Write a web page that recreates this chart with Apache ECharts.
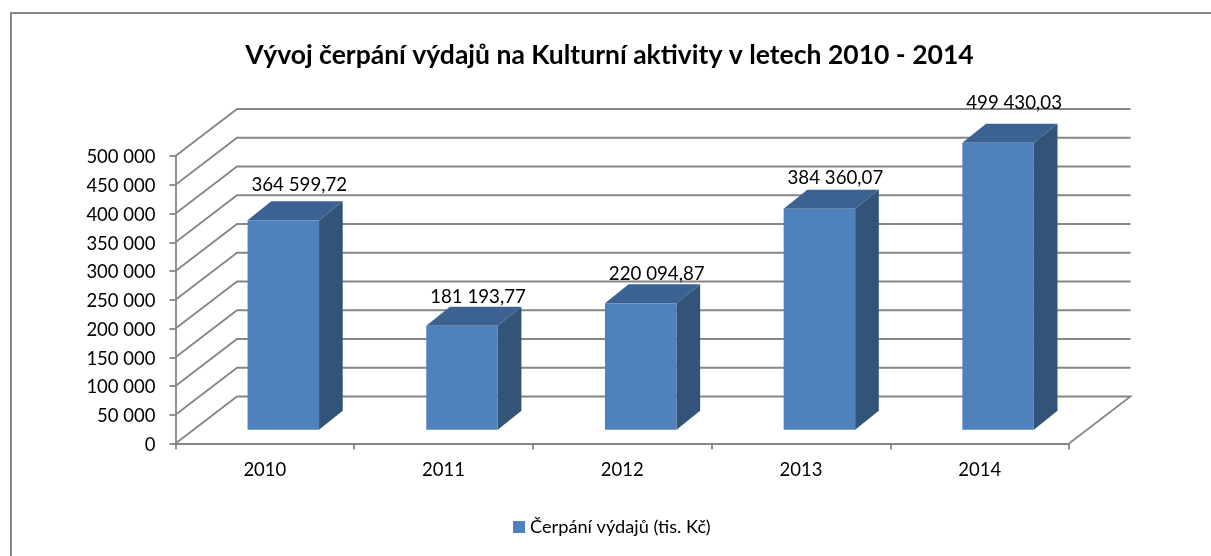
<!DOCTYPE html>
<html>
<head>
	<meta charset="utf-8"/>
	<title>Vývoj čerpání výdajů</title>
</head>
<body style="margin: 0; background: #fff;">

	<div id="chart" style="width: 1211px; height: 556px;"></div>

	<script src="https://cdn.jsdelivr.net/npm/echarts@6/dist/echarts.min.js"></script>
	<script>

		var years = ['2010', '2011', '2012', '2013', '2014'];
		var spending = [364599.72, 181193.77, 220094.87, 384360.07, 499430.03];
		var spendingLabels = ['364 599,72', '181 193,77', '220 094,87', '384 360,07', '499 430,03'];
		var yTicks = [0, 50000, 100000, 150000, 200000, 250000, 300000, 350000, 400000, 450000, 500000];

		var titleText = 'Vývoj čerpání výdajů na Kulturní aktivity v letech 2010 - 2014';
		var seriesName = 'Čerpání výdajů (tis. Kč)';

		// posun zadní stěny oproti přední rovině os
		var depthX = 61.5;
		var depthY = -47;
		var font = 'Lato';
		var lineColor = '#868686';

		// popisky v originále nesedí přesně nad sloupcem
		var labelShiftY = [-2, 4, 4, 2, -7];

		function formatTick(v) {
			return String(v).replace(/\B(?=(\d{3})+$)/g, ' ');
		}

		// mřížka: šikmá čára po boční stěně a vodorovná po zadní
		function renderWall(params, api) {
			var tick = api.value(0);
			var y = api.coord([0, tick])[1];
			var left = [params.coordSys.x, y];
			var right = [params.coordSys.x + params.coordSys.width, y];
			var points = [left, [left[0] + depthX, y + depthY], [right[0] + depthX, y + depthY]];
			if (tick === 0) {
				points.push(right);
			}
			return {
				type: 'polyline',
				shape: { points: points },
				style: { stroke: lineColor, lineWidth: 1.8, fill: null }
			};
		}

		// kvádr: přední, horní a boční stěna
		function renderBar(params, api) {
			var bandWidth = api.size([1, 0])[0];
			var center = api.coord([api.value(0), api.value(1)]);
			var base = api.coord([api.value(0), 0]);
			var w = bandWidth * 0.4;
			var frontX = depthX * 0.3;
			var frontY = depthY * 0.29;
			var dx = depthX * 0.385;
			var dy = depthY * 0.405;
			var x0 = center[0] - w / 2 + frontX;
			var x1 = x0 + w;
			var top = center[1] + frontY;
			var bottom = base[1] + frontY;
			return {
				type: 'group',
				children: [
					{
						type: 'polygon',
						shape: { points: [[x1, top], [x1 + dx, top + dy], [x1 + dx, bottom + dy], [x1, bottom]] },
						style: { fill: '#335479' }
					},
					{
						type: 'polygon',
						shape: { points: [[x0, top], [x0 + dx, top + dy], [x1 + dx, top + dy], [x1, top]] },
						style: { fill: '#3c6291' }
					},
					{
						type: 'rect',
						shape: { x: x0, y: top, width: w, height: bottom - top },
						style: { fill: '#4f81bd' }
					},
					{
						type: 'text',
						style: {
							x: center[0] + frontX + 16,
							y: top + dy - 14 + labelShiftY[params.dataIndex],
							text: spendingLabels[params.dataIndex],
							font: '18.7px ' + font,
							fill: '#000',
							align: 'center',
							verticalAlign: 'middle'
						}
					}
				]
			};
		}

		var myChart = echarts.init(document.getElementById('chart'));

		var option = {
			animation: false,
			backgroundColor: '#fff',
			title: {
				text: titleText,
				left: 604.5,
				top: 37,
				textAlign: 'center',
				textStyle: { fontFamily: font, fontWeight: 'bold', fontSize: 26.5, color: '#000' }
			},
			legend: {
				data: [{ name: seriesName, icon: 'rect' }],
				left: 508,
				top: 513,
				itemWidth: 12,
				itemHeight: 12,
				itemGap: 5,
				textStyle: { fontFamily: font, fontSize: 18.2, color: '#000' }
			},
			graphic: [
				{
					type: 'polyline',
					shape: { points: [[11, 556], [11, 13], [1211, 13]] },
					style: { stroke: lineColor, lineWidth: 2, fill: null }
				}
			],
			grid: { left: 175.5, right: 142, top: 156, bottom: 112.5 },
			xAxis: {
				type: 'category',
				data: years,
				axisLine: { lineStyle: { color: lineColor, width: 1.8 } },
				axisTick: { show: true, alignWithLabel: false, length: 6, lineStyle: { color: lineColor, width: 1.8 } },
				axisLabel: { fontFamily: font, fontSize: 18.5, color: '#000', margin: 17 }
			},
			yAxis: {
				type: 'value',
				min: 0,
				max: 500000,
				interval: 50000,
				splitLine: { show: false },
				axisLine: { show: true, lineStyle: { color: lineColor, width: 1.8 } },
				axisTick: { show: true, length: 6, lineStyle: { color: lineColor, width: 1.8 } },
				axisLabel: {
					fontFamily: font,
					fontSize: 18.5,
					color: '#000',
					margin: 20,
					verticalAlign: 'top',
					padding: [-8, 0, 0, 0],
					formatter: formatTick
				}
			},
			series: [
				{
					type: 'custom',
					name: 'wall',
					silent: true,
					clip: false,
					renderItem: renderWall,
					encode: { y: 0 },
					data: yTicks.map(function (t) { return [t]; })
				},
				{
					type: 'custom',
					name: seriesName,
					clip: false,
					itemStyle: { color: '#4f81bd' },
					renderItem: renderBar,
					encode: { x: 0, y: 1 },
					data: spending.map(function (v, i) { return [i, v]; }),
					z: 3
				}
			]
		};

		myChart.setOption(option);

	</script>
</body>
</html>
